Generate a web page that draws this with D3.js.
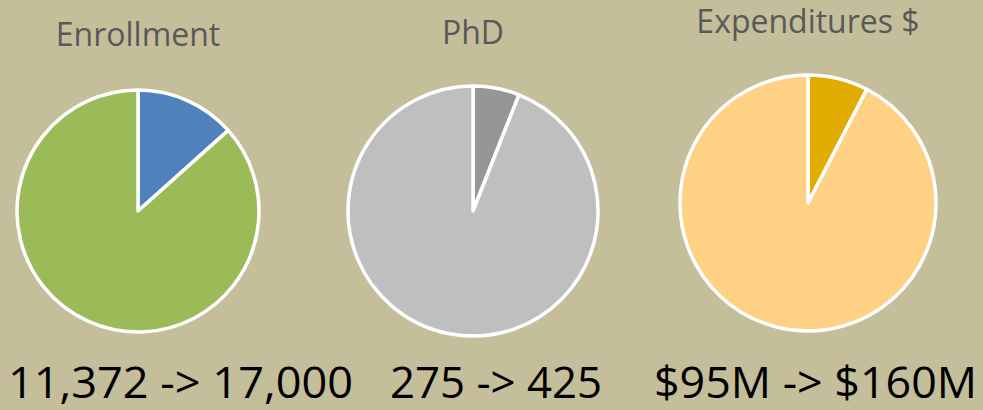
<!DOCTYPE html>
<html>
<head>
<meta charset="utf-8">
<script src="https://cdn.jsdelivr.net/npm/d3@7"></script>
<style>
  html, body { margin: 0; padding: 0; background: #C5BE9B; }
  svg { display: block; }
</style>
</head>
<body>
<svg width="983" height="410"></svg>
<script>
// chart values
var titles = ["Enrollment", "PhD", "Expenditures $"];
var smallShare = [13.4, 6.0, 7.6];   // percent of the highlighted slice
var bigShare = [86.6, 94.0, 92.4];
var captions = ["11,372 -> 17,000", "275 -> 425", "$95M -> $160M"];
var sliceColors = [["#4F81BD", "#9BBB59"], ["#969696", "#BFBFBF"], ["#E3AC00", "#FFD185"]];

var svg = d3.select("svg");

// layout per pie
var centers = [[138, 211], [473, 211], [808, 203]];
var radii = [121, 125, 128];
var titleY = [46, 44, 33];
var captionX = [[8, 353], [390, 602], [654, 977]];

var pie = d3.pie().sort(null).value(function(d) { return d; });

titles.forEach(function(t, i) {
  var g = svg.append("g")
      .attr("transform", "translate(" + centers[i][0] + "," + centers[i][1] + ")");

  var arc = d3.arc().innerRadius(0).outerRadius(radii[i]);

  g.selectAll("path")
      .data(pie([smallShare[i], bigShare[i]]))
    .enter().append("path")
      .attr("d", arc)
      .attr("fill", function(d, j) { return sliceColors[i][j]; })
      .attr("stroke", "#fff")
      .attr("stroke-width", 3.5)
      .attr("stroke-linejoin", "round");

  svg.append("text")
      .attr("x", centers[i][0])
      .attr("y", titleY[i])
      .attr("text-anchor", "middle")
      .attr("font-family", "Open Sans, sans-serif")
      .attr("font-size", 32)
      .attr("fill", "#595959")
      .text(t);

  svg.append("text")
      .attr("x", captionX[i][0])
      .attr("y", 398)
      .attr("font-family", "Liberation Sans Narrow, Open Sans, sans-serif")
      .attr("font-size", 44)
      .attr("fill", "#000")
      .attr("textLength", captionX[i][1] - captionX[i][0])
      .attr("lengthAdjust", "spacingAndGlyphs")
      .text(captions[i]);
});
</script>
</body>
</html>
